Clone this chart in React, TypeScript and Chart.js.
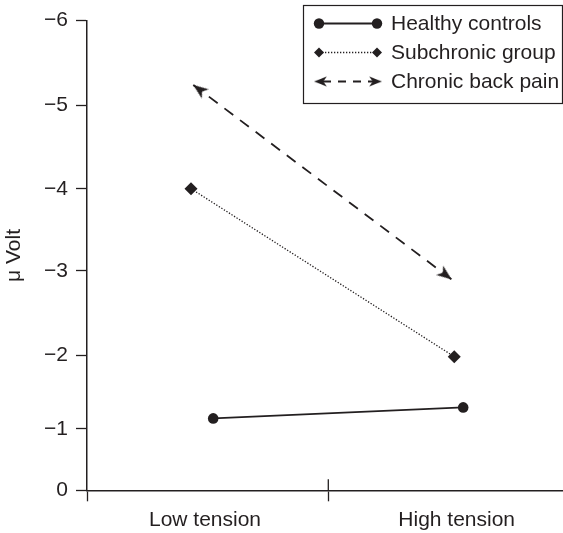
import React, { useEffect, useRef } from 'react';
import { Chart, registerables, LinearScale } from 'chart.js';

Chart.register(...registerables);

// ---------- data ----------
const categories = ['Low tension', 'High tension'];
const categoryCenters = [0.489, 1.532];
const seriesNames = ['Healthy controls', 'Subchronic group', 'Chronic back pain'];
const healthyX = [0.523, 1.559];
const healthyY = [-1.14, -1.29];
const subchronicX = [0.431, 1.522];
const subchronicY = [-4.0, -1.98];
const chronicX = [0.4405, 1.511];
const chronicY = [-5.24, -2.9];
const yTickValues = [-6, -5, -4, -3, -2, -1, 0];

// uneven tick spacing of the original figure's y axis (fraction of axis length from top)
const yAxisWarp = [0, 0.1802, 0.3579, 0.533, 0.7123, 0.8689, 1];

const INK = '#231f20';
const FONT = '"Liberation Sans", Arial, Helvetica, sans-serif';
const FS = 21;

function seg(arr: number[], v: number) {
  let i = 0;
  if (v <= arr[0]) return 0;
  if (v >= arr[arr.length - 1]) return arr.length - 2;
  while (i < arr.length - 2 && v > arr[i + 1]) i++;
  return i;
}
function warp(v: number) {
  const t = yTickValues, f = yAxisWarp;
  const i = seg(t, v);
  return f[i] + ((v - t[i]) / (t[i + 1] - t[i])) * (f[i + 1] - f[i]);
}
function unwarp(d: number) {
  const t = yTickValues, f = yAxisWarp;
  const i = seg(f, d);
  return t[i] + ((d - f[i]) / (f[i + 1] - f[i])) * (t[i + 1] - t[i]);
}

class WarpedScale extends LinearScale {
  static id = 'warped';
  getPixelForValue(value: number) {
    if (value === null || value === undefined || isNaN(value)) return NaN;
    return this.getPixelForDecimal(warp(value));
  }
  getValueForPixel(pixel: number) {
    return unwarp(this.getDecimalForPixel(pixel));
  }
}
Chart.register(WarpedScale as any);

const xTickValues = [0, categoryCenters[0], 1, categoryCenters[1]];
const xTickLabels = ['', categories[0], '', categories[1]];

function makeArrow(color: string) {
  const c = document.createElement('canvas');
  c.width = 38;
  c.height = 38;
  const g = c.getContext('2d')!;
  g.fillStyle = color;
  g.beginPath();
  g.moveTo(19, 19);
  g.lineTo(24.8, 34);
  g.lineTo(19, 30);
  g.lineTo(13.2, 34);
  g.closePath();
  g.fill();
  return c;
}

const crossTickPlugin = {
  id: 'crossTick',
  afterDraw(chart: any) {
    const xs = chart.scales.x;
    const g = chart.ctx;
    const px = xs.getPixelForValue(1);
    g.save();
    g.strokeStyle = INK;
    g.lineWidth = 1.3;
    g.beginPath();
    g.moveTo(px, chart.chartArea.bottom - 11);
    g.lineTo(px, chart.chartArea.bottom);
    g.stroke();
    g.restore();
  },
};

function drawArrowAt(g: CanvasRenderingContext2D, img: HTMLCanvasElement, x: number, y: number, deg: number, s = 1) {
  g.save();
  g.translate(x, y);
  g.rotate((deg * Math.PI) / 180);
  g.scale(s, s);
  g.drawImage(img, -img.width / 2, -img.height / 2);
  g.restore();
}

function makeLegendPlugin(arrow: HTMLCanvasElement) {
  return {
    id: 'boxLegend',
    afterDraw(chart: any) {
      const g: CanvasRenderingContext2D = chart.ctx;
      g.save();
      g.strokeStyle = INK;
      g.lineWidth = 1.2;
      g.strokeRect(303.5, 5.5, 259, 98);
      const x1 = 319, x2 = 377;
      const rows = [23.5, 52.5, 81.5];
      g.fillStyle = INK;
      g.strokeStyle = INK;
      // healthy
      g.lineWidth = 1.8;
      g.setLineDash([]);
      g.beginPath();
      g.moveTo(x1, rows[0]);
      g.lineTo(x2, rows[0]);
      g.stroke();
      [x1, x2].forEach((x) => {
        g.beginPath();
        g.arc(x, rows[0], 5.2, 0, Math.PI * 2);
        g.fill();
      });
      // subchronic
      g.lineWidth = 1.3;
      g.setLineDash([1.3, 1.7]);
      g.beginPath();
      g.moveTo(x1, rows[1]);
      g.lineTo(x2, rows[1]);
      g.stroke();
      g.setLineDash([]);
      [x1, x2].forEach((x) => {
        g.beginPath();
        g.moveTo(x, rows[1] - 5);
        g.lineTo(x + 5, rows[1]);
        g.lineTo(x, rows[1] + 5);
        g.lineTo(x - 5, rows[1]);
        g.closePath();
        g.fill();
      });
      // chronic
      g.lineWidth = 1.8;
      g.setLineDash([8, 7]);
      g.beginPath();
      g.moveTo(x1 + 4, rows[2]);
      g.lineTo(x2 - 4, rows[2]);
      g.stroke();
      g.setLineDash([]);
      drawArrowAt(g, arrow, x1 - 5, rows[2], -90, 0.85);
      drawArrowAt(g, arrow, x2 + 5, rows[2], 90, 0.85);
      // texts
      g.font = `${FS}px ${FONT}`;
      g.textBaseline = 'middle';
      g.textAlign = 'left';
      seriesNames.forEach((n, i) => g.fillText(n, 391, rows[i] + 1));
      g.restore();
    },
  };
}

export default function App() {
  const ref = useRef<HTMLCanvasElement>(null);
  useEffect(() => {
    if (!ref.current) return;
    const arrow = makeArrow(INK);
    const pts = (xs: number[], ys: number[]) => xs.map((x, i) => ({ x, y: ys[i] }));
    const chronicRotation = (ctx: any) => {
      if (ctx.type !== 'data') return 0;
      const xs = ctx.chart.scales.x;
      const ys = ctx.chart.scales.y;
      if (!xs || !ys) return 0;
      const i = ctx.dataIndex;
      const j = 1 - i;
      const dx = xs.getPixelForValue(chronicX[i]) - xs.getPixelForValue(chronicX[j]);
      const dy = ys.getPixelForValue(chronicY[i]) - ys.getPixelForValue(chronicY[j]);
      return (Math.atan2(dx, -dy) * 180) / Math.PI;
    };
    const chart = new Chart(ref.current, {
      type: 'line',
      data: {
        datasets: [
          {
            label: seriesNames[0],
            data: pts(healthyX, healthyY),
            borderColor: INK,
            backgroundColor: INK,
            borderWidth: 1.8,
            pointStyle: 'circle',
            pointRadius: 5.3,
            pointBorderWidth: 0,
          },
          {
            label: seriesNames[1],
            data: pts(subchronicX, subchronicY),
            borderColor: INK,
            backgroundColor: INK,
            borderWidth: 1.3,
            borderDash: [1.3, 1.7],
            pointStyle: 'rectRot',
            pointRadius: 6.5,
            pointBorderWidth: 0,
          },
          {
            label: seriesNames[2],
            data: pts(chronicX, chronicY),
            borderColor: INK,
            backgroundColor: INK,
            borderWidth: 1.8,
            borderDash: [11, 8.5],
            pointStyle: arrow as any,
            pointRotation: chronicRotation as any,
            pointRadius: 6,
          },
        ],
      },
      options: {
        animation: false,
        responsive: false,
        events: [],
        layout: { autoPadding: false, padding: { top: 17.5, right: 0, left: 0, bottom: 0 } },
        plugins: { legend: { display: false }, tooltip: { enabled: false } },
        font: { family: FONT, size: FS },
        scales: {
          x: {
            type: 'linear',
            min: 0,
            max: 476 / 241.3,
            afterBuildTicks: (axis: any) => {
              axis.ticks = xTickValues.map((v) => ({ value: v }));
            },
            afterFit: (axis: any) => {
              axis.height = 42.7;
              axis.paddingLeft = 0;
              axis.paddingRight = 0;
            },
            ticks: {
              autoSkip: false,
              maxRotation: 0,
              color: INK,
              padding: 6,
              font: { family: FONT, size: FS },
              callback: (_v: any, i: number) => xTickLabels[i],
            },
            grid: {
              drawOnChartArea: false,
              tickLength: 11,
              tickWidth: 1.3,
              tickColor: (c: any) => (xTickLabels[c.index] ? 'transparent' : INK),
            },
            border: { color: INK, width: 1.5 },
          },
          y: {
            type: 'warped' as any,
            reverse: true,
            min: -6,
            max: 0,
            afterBuildTicks: (axis: any) => {
              axis.ticks = yTickValues.map((v) => ({ value: v }));
            },
            afterFit: (axis: any) => {
              axis.width = 87;
            },
            ticks: {
              color: INK,
              padding: 8,
              font: { family: FONT, size: FS },
              callback: (v: any) => (v === 0 ? '0' : '\u2212' + Math.abs(v)),
            },
            grid: {
              drawOnChartArea: false,
              tickLength: 11,
              tickWidth: 1.3,
              tickColor: INK,
            },
            border: { color: INK, width: 1.5 },
            title: {
              display: true,
              text: 'μ Volt',
              color: INK,
              font: { family: FONT, size: FS },
              padding: { top: 2, bottom: 2 },
            },
          },
        },
      } as any,
      plugins: [crossTickPlugin, makeLegendPlugin(arrow)],
    });
    return () => chart.destroy();
  }, []);
  return (
    <div style={{ position: 'absolute', left: 0, top: 0, width: 563, height: 533, background: '#fff' }}>
      <canvas ref={ref} width={563} height={533} style={{ display: 'block' }} />
    </div>
  );
}
